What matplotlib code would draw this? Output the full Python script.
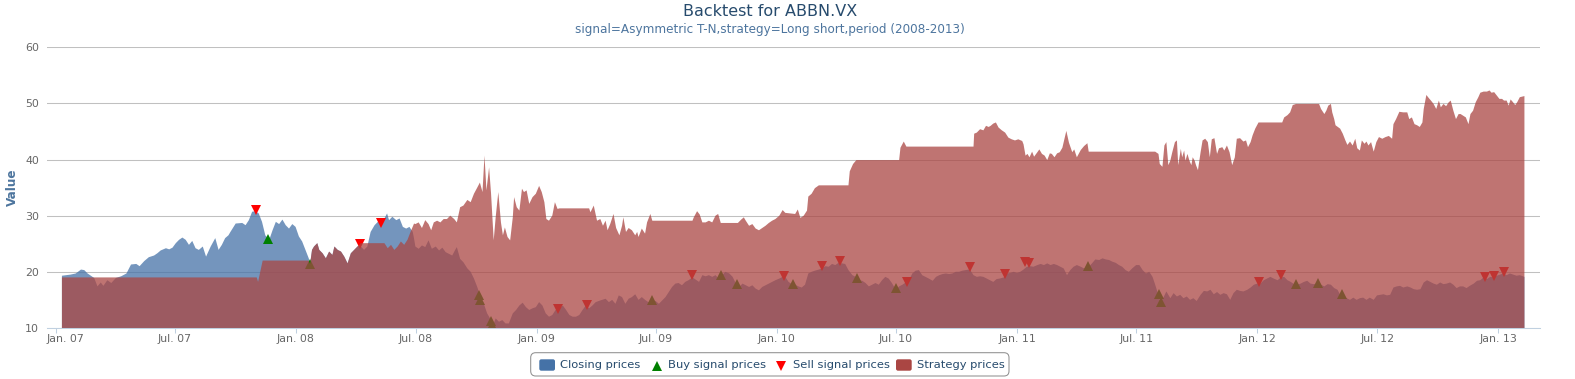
import numpy as np
import matplotlib
matplotlib.use("Agg")
import matplotlib.pyplot as plt
import matplotlib.transforms as mtrans
from matplotlib.patches import FancyBboxPatch
from matplotlib.lines import Line2D

plt.rcParams['font.family'] = ['DejaVu Sans']

# ---------------- data ----------------
close_dates = [
    '2007-01-10', '2007-01-23', '2007-01-31', '2007-02-08', '2007-02-13', '2007-02-18', '2007-02-23', '2007-02-28',
    '2007-03-03', '2007-03-05', '2007-03-10', '2007-03-14', '2007-03-20', '2007-03-26', '2007-04-02', '2007-04-10',
    '2007-04-18', '2007-04-25', '2007-05-03', '2007-05-08', '2007-05-15', '2007-05-22', '2007-05-30', '2007-06-04',
    '2007-06-09', '2007-06-17', '2007-06-22', '2007-06-27', '2007-07-02', '2007-07-07', '2007-07-12', '2007-07-17',
    '2007-07-22', '2007-07-27', '2007-08-01', '2007-08-06', '2007-08-12', '2007-08-17', '2007-08-24', '2007-08-31',
    '2007-09-05', '2007-09-10', '2007-09-15', '2007-09-20', '2007-09-23', '2007-10-01', '2007-10-11', '2007-10-16',
    '2007-10-21', '2007-10-26', '2007-10-31', '2007-11-05', '2007-11-10', '2007-11-15', '2007-11-21', '2007-11-26',
    '2007-12-01', '2007-12-06', '2007-12-11', '2007-12-16', '2007-12-21', '2007-12-26', '2007-12-31', '2008-01-05',
    '2008-01-10', '2008-01-15', '2008-01-20', '2008-01-22', '2008-01-25', '2008-01-28', '2008-02-02', '2008-02-05',
    '2008-02-10', '2008-02-15', '2008-02-20', '2008-02-25', '2008-02-28', '2008-03-04', '2008-03-09', '2008-03-14',
    '2008-03-19', '2008-03-24', '2008-03-29', '2008-04-03', '2008-04-06', '2008-04-13', '2008-04-18', '2008-04-23',
    '2008-04-29', '2008-05-04', '2008-05-09', '2008-05-14', '2008-05-18', '2008-05-21', '2008-05-26', '2008-06-01',
    '2008-06-06', '2008-06-11', '2008-06-16', '2008-06-21', '2008-06-26', '2008-06-28', '2008-06-30', '2008-07-05',
    '2008-07-10', '2008-07-15', '2008-07-20', '2008-07-25', '2008-07-31', '2008-08-05', '2008-08-10', '2008-08-15',
    '2008-08-20', '2008-08-25', '2008-08-29', '2008-09-01', '2008-09-06', '2008-09-11', '2008-09-17', '2008-09-22',
    '2008-09-27', '2008-10-02', '2008-10-07', '2008-10-12', '2008-10-17', '2008-10-23', '2008-10-26', '2008-10-30',
    '2008-11-04', '2008-11-09', '2008-11-14', '2008-11-19', '2008-11-25', '2008-11-30', '2008-12-05', '2008-12-10',
    '2008-12-15', '2008-12-20', '2008-12-25', '2008-12-30', '2009-01-04', '2009-01-09', '2009-01-14', '2009-01-19',
    '2009-01-24', '2009-01-29', '2009-02-04', '2009-02-09', '2009-02-14', '2009-02-19', '2009-02-24', '2009-03-01',
    '2009-03-06', '2009-03-11', '2009-03-16', '2009-03-21', '2009-03-26', '2009-03-31', '2009-04-07', '2009-04-15',
    '2009-04-20', '2009-04-25', '2009-04-30', '2009-05-05', '2009-05-10', '2009-05-15', '2009-05-20', '2009-05-25',
    '2009-05-30', '2009-06-04', '2009-06-09', '2009-06-14', '2009-06-19', '2009-06-25', '2009-06-30', '2009-07-05',
    '2009-07-10', '2009-07-15', '2009-07-20', '2009-07-25', '2009-07-30', '2009-08-04', '2009-08-09', '2009-08-14',
    '2009-08-19', '2009-08-25', '2009-08-30', '2009-09-04', '2009-09-09', '2009-09-14', '2009-09-19', '2009-09-24',
    '2009-09-29', '2009-10-04', '2009-10-09', '2009-10-14', '2009-10-20', '2009-10-25', '2009-10-30', '2009-11-04',
    '2009-11-09', '2009-11-14', '2009-11-19', '2009-11-24', '2009-11-29', '2009-12-04', '2009-12-09', '2009-12-14',
    '2009-12-19', '2009-12-24', '2009-12-29', '2010-01-04', '2010-01-09', '2010-01-13', '2010-01-18', '2010-01-23',
    '2010-01-28', '2010-02-02', '2010-02-07', '2010-02-12', '2010-02-17', '2010-02-22', '2010-02-27', '2010-03-05',
    '2010-03-10', '2010-03-15', '2010-03-20', '2010-03-25', '2010-03-30', '2010-04-04', '2010-04-09', '2010-04-14',
    '2010-04-19', '2010-04-25', '2010-04-30', '2010-05-05', '2010-05-10', '2010-05-15', '2010-05-20', '2010-05-25',
    '2010-05-30', '2010-06-04', '2010-06-09', '2010-06-14', '2010-06-19', '2010-06-24', '2010-06-30', '2010-07-05',
    '2010-07-10', '2010-07-15', '2010-07-20', '2010-07-25', '2010-07-30', '2010-08-04', '2010-08-09', '2010-08-14',
    '2010-08-19', '2010-08-25', '2010-08-30', '2010-09-04', '2010-09-09', '2010-09-14', '2010-09-19', '2010-09-24',
    '2010-09-29', '2010-10-04', '2010-10-09', '2010-10-14', '2010-10-19', '2010-10-21', '2010-10-26', '2010-10-31',
    '2010-11-05', '2010-11-10', '2010-11-15', '2010-11-20', '2010-11-25', '2010-11-30', '2010-12-05', '2010-12-11',
    '2010-12-16', '2010-12-21', '2010-12-26', '2010-12-31', '2011-01-05', '2011-01-10', '2011-01-15', '2011-01-20',
    '2011-01-25', '2011-01-31', '2011-02-05', '2011-02-10', '2011-02-15', '2011-02-20', '2011-02-25', '2011-03-02',
    '2011-03-07', '2011-03-12', '2011-03-17', '2011-03-22', '2011-03-27', '2011-04-01', '2011-04-07', '2011-04-12',
    '2011-04-19', '2011-04-24', '2011-04-29', '2011-05-05', '2011-05-10', '2011-05-15', '2011-05-20', '2011-05-25',
    '2011-05-30', '2011-06-04', '2011-06-09', '2011-06-14', '2011-06-19', '2011-06-24', '2011-06-30', '2011-07-05',
    '2011-07-10', '2011-07-15', '2011-07-20', '2011-07-25', '2011-07-29', '2011-08-02', '2011-08-05', '2011-08-10',
    '2011-08-15', '2011-08-21', '2011-08-26', '2011-08-31', '2011-09-05', '2011-09-10', '2011-09-15', '2011-09-20',
    '2011-09-25', '2011-09-30', '2011-10-06', '2011-10-11', '2011-10-16', '2011-10-21', '2011-10-26', '2011-10-31',
    '2011-11-05', '2011-11-10', '2011-11-15', '2011-11-20', '2011-11-25', '2011-11-30', '2011-12-05', '2011-12-10',
    '2011-12-16', '2011-12-21', '2011-12-26', '2011-12-31', '2012-01-05', '2012-01-10', '2012-01-15', '2012-01-20',
    '2012-01-25', '2012-01-31', '2012-02-05', '2012-02-10', '2012-02-15', '2012-02-20', '2012-02-25', '2012-03-01',
    '2012-03-06', '2012-03-11', '2012-03-16', '2012-03-21', '2012-03-26', '2012-03-31', '2012-04-06', '2012-04-11',
    '2012-04-16', '2012-04-21', '2012-04-26', '2012-05-01', '2012-05-05', '2012-05-10', '2012-05-15', '2012-05-20',
    '2012-05-25', '2012-05-30', '2012-06-04', '2012-06-09', '2012-06-14', '2012-06-19', '2012-06-25', '2012-06-30',
    '2012-07-05', '2012-07-10', '2012-07-15', '2012-07-20', '2012-07-25', '2012-07-30', '2012-08-04', '2012-08-09',
    '2012-08-15', '2012-08-20', '2012-08-25', '2012-08-30', '2012-09-04', '2012-09-09', '2012-09-14', '2012-09-19',
    '2012-09-24', '2012-09-29', '2012-10-04', '2012-10-09', '2012-10-14', '2012-10-19', '2012-10-24', '2012-10-29',
    '2012-11-03', '2012-11-08', '2012-11-13', '2012-11-18', '2012-11-24', '2012-11-29', '2012-12-04', '2012-12-09',
    '2012-12-14', '2012-12-19', '2012-12-24', '2012-12-29', '2013-01-03', '2013-01-08', '2013-01-13', '2013-01-18',
    '2013-01-23', '2013-01-28', '2013-02-02', '2013-02-09',
]
close_values = [
    19.4, 19.6, 19.8, 20.5, 20.4, 19.8, 19.4, 19.0,
    18.1, 17.5, 18.2, 17.6, 18.6, 18.1, 19.0, 19.3,
    19.8, 21.4, 21.5, 21.1, 22.0, 22.7, 23.0, 23.4,
    23.9, 24.3, 24.1, 24.4, 25.2, 25.8, 26.2, 25.8,
    24.9, 25.6, 24.3, 24.0, 24.6, 22.8, 24.6, 26.1,
    24.0, 24.9, 26.1, 26.6, 27.2, 28.7, 28.8, 28.4,
    29.3, 30.8, 30.9, 30.5, 29.0, 26.6, 25.8, 27.5,
    29.0, 28.6, 29.4, 28.4, 27.8, 28.6, 28.1, 26.4,
    25.5, 24.0, 22.5, 21.5, 24.0, 24.6, 25.2, 24.0,
    23.4, 22.5, 23.7, 23.1, 24.6, 24.0, 23.7, 22.8,
    21.6, 23.4, 24.0, 24.6, 24.9, 24.0, 24.6, 27.2,
    28.4, 29.0, 28.7, 29.6, 30.5, 29.3, 29.9, 29.3,
    29.6, 28.1, 27.8, 28.1, 27.2, 26.0, 24.6, 24.2,
    24.8, 24.5, 25.7, 24.2, 24.6, 23.9, 24.4, 23.6,
    23.3, 23.0, 23.9, 24.5, 22.4, 21.8, 20.7, 20.1,
    18.9, 17.4, 15.6, 14.4, 12.7, 11.5, 10.6, 11.8,
    11.2, 11.5, 10.9, 10.9, 12.7, 13.3, 14.1, 14.6,
    13.8, 13.3, 13.6, 13.8, 14.7, 14.1, 12.7, 12.1,
    12.4, 13.3, 13.6, 14.1, 13.3, 12.4, 12.1, 12.1,
    12.4, 13.3, 14.1, 13.6, 14.1, 14.7, 15.0, 15.3,
    14.7, 15.1, 14.4, 15.9, 15.6, 14.4, 15.3, 15.6,
    16.1, 15.1, 15.6, 15.1, 14.7, 14.9, 14.9, 14.4,
    15.0, 15.6, 16.5, 17.4, 18.0, 18.1, 17.7, 18.3,
    18.6, 19.1, 18.7, 18.3, 19.5, 19.3, 19.5, 19.2,
    19.5, 18.9, 19.5, 20.1, 19.8, 19.2, 18.0, 17.4,
    18.0, 17.7, 17.4, 17.7, 17.1, 16.8, 17.4, 17.7,
    18.0, 18.3, 18.6, 18.9, 19.2, 19.2, 18.3, 17.9,
    17.8, 17.5, 17.3, 17.8, 19.8, 20.1, 20.3, 20.5,
    20.7, 21.1, 21.0, 21.5, 21.3, 21.7, 21.6, 21.5,
    20.4, 19.5, 19.2, 18.6, 18.5, 18.1, 17.5, 17.8,
    18.1, 17.8, 18.6, 19.2, 18.9, 18.1, 16.9, 17.5,
    17.8, 18.2, 18.6, 19.8, 20.3, 20.4, 19.5, 19.2,
    18.9, 18.5, 19.2, 19.5, 19.7, 19.8, 19.7, 19.8,
    20.1, 20.1, 20.3, 20.4, 20.5, 20.4, 19.5, 19.2,
    19.3, 19.2, 18.9, 18.6, 18.3, 18.8, 18.9, 19.1,
    19.8, 19.9, 20.1, 19.9, 20.1, 20.5, 21.0, 21.1,
    21.0, 21.3, 21.5, 21.3, 21.6, 21.3, 21.5, 21.3,
    21.0, 20.7, 19.5, 20.4, 21.0, 21.3, 21.0, 20.7,
    21.0, 21.6, 22.3, 22.2, 22.5, 22.3, 22.2, 21.9,
    21.7, 21.3, 21.0, 20.4, 20.1, 20.7, 21.3, 21.3,
    20.4, 19.8, 20.1, 19.2, 17.8, 16.3, 15.1, 15.4,
    16.6, 15.4, 16.3, 15.7, 16.0, 15.4, 15.7, 15.1,
    15.4, 14.9, 16.0, 16.7, 16.6, 16.9, 16.1, 16.5,
    16.0, 16.3, 16.1, 15.1, 16.3, 16.9, 16.7, 16.6,
    16.9, 17.3, 17.8, 18.0, 18.0, 18.6, 18.9, 19.2,
    18.9, 18.6, 19.1, 19.2, 18.6, 18.3, 17.9, 17.8,
    18.0, 18.3, 18.5, 18.0, 17.9, 18.0, 17.8, 17.5,
    17.9, 17.8, 17.2, 16.9, 16.0, 15.7, 15.4, 15.1,
    15.5, 15.1, 15.4, 15.5, 15.1, 15.5, 15.1, 15.9,
    16.0, 16.1, 15.9, 16.0, 17.3, 17.5, 17.6, 17.3,
    17.5, 17.3, 17.0, 16.9, 17.0, 18.2, 18.6, 18.3,
    18.0, 17.8, 18.2, 17.9, 18.0, 18.2, 17.8, 17.2,
    17.5, 17.5, 17.2, 17.6, 18.0, 18.5, 18.6, 19.1,
    18.8, 19.2, 19.1, 19.4, 19.6, 19.8, 19.5, 19.8,
    19.6, 19.4, 19.5, 19.2,
]

strategy_dates = [
    '2007-01-10', '2007-11-02', '2007-11-04', '2007-11-11', '2008-01-20', '2008-01-22', '2008-01-25', '2008-01-28',
    '2008-02-02', '2008-02-05', '2008-02-10', '2008-02-15', '2008-02-20', '2008-02-25', '2008-02-28', '2008-03-04',
    '2008-03-09', '2008-03-14', '2008-03-19', '2008-03-24', '2008-03-29', '2008-04-03', '2008-04-06', '2008-04-08',
    '2008-05-14', '2008-05-19', '2008-05-24', '2008-05-29', '2008-06-03', '2008-06-08', '2008-06-13', '2008-06-18',
    '2008-06-23', '2008-06-28', '2008-06-30', '2008-07-05', '2008-07-10', '2008-07-15', '2008-07-20', '2008-07-24',
    '2008-07-28', '2008-08-02', '2008-08-07', '2008-08-12', '2008-08-17', '2008-08-22', '2008-08-28', '2008-09-01',
    '2008-09-06', '2008-09-11', '2008-09-17', '2008-09-22', '2008-09-27', '2008-10-02', '2008-10-06', '2008-10-10',
    '2008-10-13', '2008-10-16', '2008-10-20', '2008-10-23', '2008-10-27', '2008-10-30', '2008-11-03', '2008-11-07',
    '2008-11-10', '2008-11-13', '2008-11-17', '2008-11-21', '2008-11-25', '2008-11-27', '2008-12-01', '2008-12-05',
    '2008-12-09', '2008-12-12', '2008-12-16', '2008-12-20', '2008-12-25', '2008-12-30', '2009-01-04', '2009-01-08',
    '2009-01-12', '2009-01-15', '2009-01-19', '2009-01-24', '2009-01-28', '2009-02-01', '2009-02-04', '2009-03-21',
    '2009-03-23', '2009-03-28', '2009-04-02', '2009-04-07', '2009-04-11', '2009-04-15', '2009-04-18', '2009-04-22',
    '2009-04-27', '2009-05-01', '2009-05-06', '2009-05-10', '2009-05-12', '2009-05-16', '2009-05-20', '2009-05-25',
    '2009-05-30', '2009-06-02', '2009-06-04', '2009-06-09', '2009-06-14', '2009-06-17', '2009-06-22', '2009-06-25',
    '2009-08-25', '2009-08-27', '2009-09-01', '2009-09-05', '2009-09-09', '2009-09-14', '2009-09-19', '2009-09-24',
    '2009-09-29', '2009-10-03', '2009-10-07', '2009-11-02', '2009-11-07', '2009-11-11', '2009-11-14', '2009-11-19',
    '2009-11-24', '2009-11-29', '2009-12-04', '2009-12-09', '2009-12-14', '2009-12-19', '2009-12-24', '2009-12-29',
    '2010-01-04', '2010-01-09', '2010-01-13', '2010-01-28', '2010-02-01', '2010-02-05', '2010-02-10', '2010-02-15',
    '2010-02-17', '2010-02-22', '2010-02-27', '2010-03-05', '2010-04-19', '2010-04-21', '2010-04-26', '2010-05-01',
    '2010-07-05', '2010-07-07', '2010-07-12', '2010-07-16', '2010-10-26', '2010-10-27', '2010-10-31', '2010-11-05',
    '2010-11-10', '2010-11-14', '2010-11-18', '2010-11-21', '2010-11-25', '2010-11-29', '2010-12-03', '2010-12-08',
    '2010-12-13', '2010-12-18', '2010-12-23', '2010-12-28', '2011-01-02', '2011-01-08', '2011-01-10', '2011-01-13',
    '2011-01-16', '2011-01-19', '2011-01-23', '2011-01-26', '2011-01-31', '2011-02-03', '2011-02-07', '2011-02-11',
    '2011-02-15', '2011-02-19', '2011-02-22', '2011-02-26', '2011-03-02', '2011-03-06', '2011-03-10', '2011-03-13',
    '2011-03-16', '2011-03-20', '2011-03-25', '2011-03-28', '2011-04-01', '2011-04-07', '2011-04-12', '2011-04-17',
    '2011-04-19', '2011-07-29', '2011-08-03', '2011-08-05', '2011-08-09', '2011-08-12', '2011-08-15', '2011-08-18',
    '2011-08-21', '2011-08-24', '2011-08-28', '2011-08-31', '2011-09-02', '2011-09-06', '2011-09-08', '2011-09-11',
    '2011-09-13', '2011-09-16', '2011-09-19', '2011-09-22', '2011-09-24', '2011-09-27', '2011-09-29', '2011-10-02',
    '2011-10-06', '2011-10-09', '2011-10-13', '2011-10-17', '2011-10-20', '2011-10-23', '2011-10-27', '2011-10-31',
    '2011-11-03', '2011-11-08', '2011-11-11', '2011-11-15', '2011-11-19', '2011-11-23', '2011-11-27', '2011-11-30',
    '2011-12-05', '2011-12-10', '2011-12-14', '2011-12-17', '2011-12-21', '2011-12-24', '2011-12-28', '2012-01-02',
    '2012-02-07', '2012-02-10', '2012-02-15', '2012-02-19', '2012-02-23', '2012-02-28', '2012-04-03', '2012-04-06',
    '2012-04-11', '2012-04-14', '2012-04-17', '2012-04-21', '2012-04-23', '2012-04-26', '2012-04-28', '2012-05-05',
    '2012-05-09', '2012-05-13', '2012-05-16', '2012-05-20', '2012-05-24', '2012-05-28', '2012-05-31', '2012-06-04',
    '2012-06-07', '2012-06-11', '2012-06-14', '2012-06-17', '2012-06-21', '2012-06-25', '2012-06-29', '2012-07-03',
    '2012-07-08', '2012-07-13', '2012-07-18', '2012-07-23', '2012-07-25', '2012-07-29', '2012-08-03', '2012-08-09',
    '2012-08-15', '2012-08-18', '2012-08-22', '2012-08-26', '2012-08-30', '2012-09-03', '2012-09-07', '2012-09-09',
    '2012-09-13', '2012-09-17', '2012-09-20', '2012-09-24', '2012-09-28', '2012-10-02', '2012-10-05', '2012-10-09',
    '2012-10-13', '2012-10-17', '2012-10-20', '2012-10-24', '2012-10-28', '2012-11-01', '2012-11-04', '2012-11-08',
    '2012-11-12', '2012-11-16', '2012-11-19', '2012-11-23', '2012-11-27', '2012-12-01', '2012-12-04', '2012-12-09',
    '2012-12-14', '2012-12-18', '2012-12-21', '2012-12-25', '2012-12-29', '2013-01-02', '2013-01-06', '2013-01-09',
    '2013-01-13', '2013-01-16', '2013-01-19', '2013-01-22', '2013-01-26', '2013-01-29', '2013-02-02', '2013-02-09',
]
strategy_values = [
    19.1, 19.1, 18.3, 22.1, 22.1, 21.5, 24.0, 24.6,
    25.2, 24.0, 23.4, 22.5, 23.7, 23.1, 24.6, 24.0,
    23.7, 22.8, 21.6, 23.4, 24.0, 24.6, 24.9, 25.2,
    25.2, 24.3, 24.9, 24.0, 24.6, 25.5, 24.9, 25.8,
    27.3, 28.7, 28.6, 28.9, 27.9, 29.3, 28.6, 27.5,
    28.9, 29.2, 28.9, 29.5, 29.5, 30.1, 29.5, 28.9,
    31.6, 31.9, 32.9, 32.5, 34.0, 35.1, 36.0, 34.3,
    40.8, 34.6, 38.7, 34.0, 25.7, 29.8, 34.3, 28.9,
    26.6, 28.0, 26.3, 25.7, 29.8, 33.4, 31.6, 31.0,
    34.9, 34.3, 34.6, 32.2, 33.4, 34.0, 35.4, 34.3,
    32.5, 29.5, 29.2, 30.1, 32.5, 31.3, 31.4, 31.4,
    30.7, 31.9, 29.2, 29.5, 28.3, 29.2, 27.5, 28.6,
    30.4, 27.9, 26.6, 28.3, 29.8, 27.2, 27.9, 27.5,
    26.6, 27.2, 26.3, 27.8, 26.9, 28.9, 30.4, 29.2,
    29.2, 29.8, 30.9, 30.3, 28.9, 28.9, 29.2, 28.9,
    30.1, 30.4, 28.8, 28.8, 29.4, 29.8, 29.2, 28.3,
    28.6, 27.8, 27.5, 27.9, 28.3, 28.8, 29.2, 29.5,
    30.1, 31.1, 30.6, 30.4, 31.2, 29.7, 30.1, 31.0,
    33.5, 34.0, 35.0, 35.5, 35.5, 38.0, 39.3, 40.0,
    40.0, 42.2, 43.3, 42.4, 42.4, 44.7, 44.9, 45.5,
    45.3, 46.1, 45.9, 46.1, 46.5, 46.7, 45.8, 45.3,
    44.9, 44.0, 43.7, 43.5, 43.7, 43.4, 42.8, 40.8,
    41.1, 40.5, 41.5, 40.6, 41.4, 41.9, 41.1, 40.8,
    40.0, 41.2, 41.1, 40.5, 41.2, 41.4, 42.2, 43.7,
    45.2, 43.1, 41.4, 41.9, 40.5, 41.8, 42.5, 43.0,
    41.5, 41.5, 41.1, 39.3, 38.8, 42.6, 43.2, 39.1,
    39.9, 41.4, 43.2, 43.5, 39.1, 42.0, 40.5, 41.7,
    39.9, 41.1, 39.9, 39.1, 40.5, 39.9, 39.1, 38.2,
    41.4, 43.5, 43.8, 43.2, 40.5, 43.7, 43.9, 41.1,
    42.1, 42.3, 41.7, 42.6, 41.4, 39.1, 40.5, 43.8,
    43.9, 43.3, 43.5, 42.3, 43.2, 44.4, 45.6, 46.7,
    46.7, 47.6, 48.0, 48.5, 49.8, 50.0, 50.0, 49.1,
    48.2, 48.8, 49.7, 50.0, 48.5, 47.3, 46.2, 45.6,
    44.7, 43.5, 42.7, 43.3, 42.6, 43.8, 42.1, 41.7,
    43.5, 42.9, 43.3, 42.6, 43.2, 41.5, 43.2, 44.1,
    43.8, 44.1, 44.3, 43.8, 46.4, 47.3, 48.6, 48.5,
    48.5, 47.3, 47.6, 46.4, 46.2, 45.9, 46.7, 49.1,
    51.6, 51.0, 50.6, 50.0, 49.1, 50.6, 49.4, 50.0,
    49.6, 50.3, 50.6, 48.8, 47.3, 48.2, 48.2, 47.9,
    47.6, 46.4, 48.2, 48.8, 50.3, 51.2, 52.0, 52.2,
    52.2, 52.4, 52.0, 52.1, 51.5, 50.9, 50.9, 50.6,
    50.6, 49.7, 50.8, 50.4, 49.8, 50.3, 51.2, 51.4,
]

buy_dates = [
    '2007-11-20', '2008-01-22', '2008-10-06', '2008-10-07', '2008-10-24', '2008-10-25', '2009-06-25', '2009-10-08',
    '2009-11-02', '2010-01-26', '2010-05-03', '2010-07-01', '2011-04-19', '2011-08-04', '2011-08-07', '2012-02-29',
    '2012-04-02', '2012-05-09',
]
buy_values = [
    25.9, 21.4, 15.9, 15.0, 11.3, 10.6, 14.9, 19.5,
    17.8, 17.9, 18.9, 17.1, 21.0, 16.0, 14.7, 17.9,
    18.0, 16.1,
]

sell_dates = [
    '2007-11-01', '2008-04-07', '2008-05-09', '2009-02-03', '2009-03-18', '2009-08-25', '2010-01-12', '2010-03-10',
    '2010-04-07', '2010-07-18', '2010-10-21', '2010-12-13', '2011-01-13', '2011-01-19', '2012-01-04', '2012-02-06',
    '2012-12-12', '2012-12-26', '2013-01-09',
]
sell_values = [
    31.1, 24.9, 28.7, 13.4, 14.1, 19.5, 19.2, 21.0,
    21.9, 18.2, 20.8, 19.7, 21.7, 21.5, 18.2, 19.5,
    19.1, 19.2, 19.9,
]

y_ticks = [10, 20, 30, 40, 50, 60]
x_tick_dates = ['2007-01-01', '2007-07-01', '2008-01-01', '2008-07-01', '2009-01-01', '2009-07-01', '2010-01-01',
                '2010-07-01', '2011-01-01', '2011-07-01', '2012-01-01', '2012-07-01', '2013-01-01']
x_tick_labels = ['Jan. 07', 'Jul. 07', 'Jan. 08', 'Jul. 08', 'Jan. 09', 'Jul. 09', 'Jan. 10',
                 'Jul. 10', 'Jan. 11', 'Jul. 11', 'Jan. 12', 'Jul. 12', 'Jan. 13']
series_names = ['Closing prices', 'Buy signal prices', 'Sell signal prices', 'Strategy prices']
title_text = 'Backtest for ABBN.VX'
subtitle_text = 'signal=Asymmetric T-N,strategy=Long short,period (2008-2013)'
y_title = 'Value'

# ---------------- styling ----------------
C_CLOSE = '#4572A7'
C_STRAT = '#AA4643'
C_BUY = '#008000'
C_SELL = '#FF0000'

W, H = 1575, 379
DPI = 100
fig = plt.figure(figsize=(W / DPI, H / DPI), dpi=DPI)
fig.patch.set_facecolor('white')
L, R, T, B = 47.0, 1540.0, 47.3, 328.0
ax = fig.add_axes([L / W, 1 - B / H, (R - L) / W, (B - T) / H])

cd = np.array(close_dates, dtype='datetime64[D]')
td = np.array(strategy_dates, dtype='datetime64[D]')
bd = np.array(buy_dates, dtype='datetime64[D]')
sd = np.array(sell_dates, dtype='datetime64[D]')

ax.fill_between(cd, close_values, 0, color=C_CLOSE, alpha=0.75, lw=0, zorder=2)
ax.plot(bd, buy_values, ls='none', marker='^', ms=6.8, color=C_BUY, mew=0, zorder=3)
ax.plot(sd, sell_values, ls='none', marker='v', ms=6.8, color=C_SELL, mew=0, zorder=4)
ax.fill_between(td, strategy_values, 0, color=C_STRAT, alpha=0.75, lw=0, zorder=5)

ax.set_ylim(10, 60)
ax.set_xlim(np.datetime64('2006-12-19T02'), np.datetime64('2013-03-05T10'))

ax.set_axisbelow(True)
ax.yaxis.grid(True, color='#C0C0C0', lw=0.75)
ax.xaxis.grid(False)
for s in ('top', 'right', 'left'):
    ax.spines[s].set_visible(False)
ax.spines['bottom'].set_color('#C0D0E0')
ax.spines['bottom'].set_linewidth(0.75)
ax.spines['bottom'].set_zorder(6)

ax.set_yticks(y_ticks)
ax.set_yticklabels([str(v) for v in y_ticks])
ax.set_xticks(np.array(x_tick_dates, dtype='datetime64[D]'))
ax.set_xticklabels(x_tick_labels)
ax.tick_params(axis='x', direction='out', length=3.6, width=0.75, color='#C0D0E0',
               labelcolor='#666666', labelsize=7.9, pad=1.0)
ax.tick_params(axis='y', length=0, pad=5.8, labelcolor='#666666', labelsize=7.9)

# titles
CX = 770.0
fig.text(CX / W, 1 - 12.0 / H, title_text, ha='center', va='center', fontsize=11.5, color='#274b6d')
fig.text(CX / W, 1 - 29.0 / H, subtitle_text, ha='center', va='center', fontsize=8.64, color='#4d759e')
fig.text(12.0 / W, 1 - 187.5 / H, y_title, rotation=90, ha='center', va='center',
         fontsize=8.64, fontweight='bold', color='#4d759e')

# legend (drawn in pixel coordinates)
IDT = mtrans.IdentityTransform()
box = FancyBboxPatch((530.7, H - 376.0), 478.3, 23.3, boxstyle='round,pad=0,rounding_size=5',
                     transform=IDT, fc='white', ec='#909090', lw=0.75)
fig.add_artist(box)
ly = H - 365.8
for x0, col in ((539.3, C_CLOSE), (896.0, C_STRAT)):
    sq = FancyBboxPatch((x0, H - 370.7), 15.7, 11.4, boxstyle='round,pad=0,rounding_size=2',
                        transform=IDT, fc=col, ec='none')
    fig.add_artist(sq)
fig.add_artist(Line2D([656.7], [ly], marker='^', ms=6.8, color=C_BUY, mew=0, ls='none', transform=IDT))
fig.add_artist(Line2D([780.8], [ly], marker='v', ms=6.8, color=C_SELL, mew=0, ls='none', transform=IDT))
for x0, name in zip((560.0, 668.5, 792.8, 917.3), series_names):
    fig.text(x0, H - 365.5, name, transform=IDT, ha='left', va='center', fontsize=8.25, color='#274b6d')

# first x label is kept inside the plot's left edge
fig.canvas.draw()
first = ax.get_xticklabels()[0]
first.set_horizontalalignment('left')
first.set_transform(first.get_transform() + mtrans.ScaledTranslation(-8.8 / DPI, 0, fig.dpi_scale_trans))

fig.savefig('out.png', dpi=DPI, facecolor='white')
